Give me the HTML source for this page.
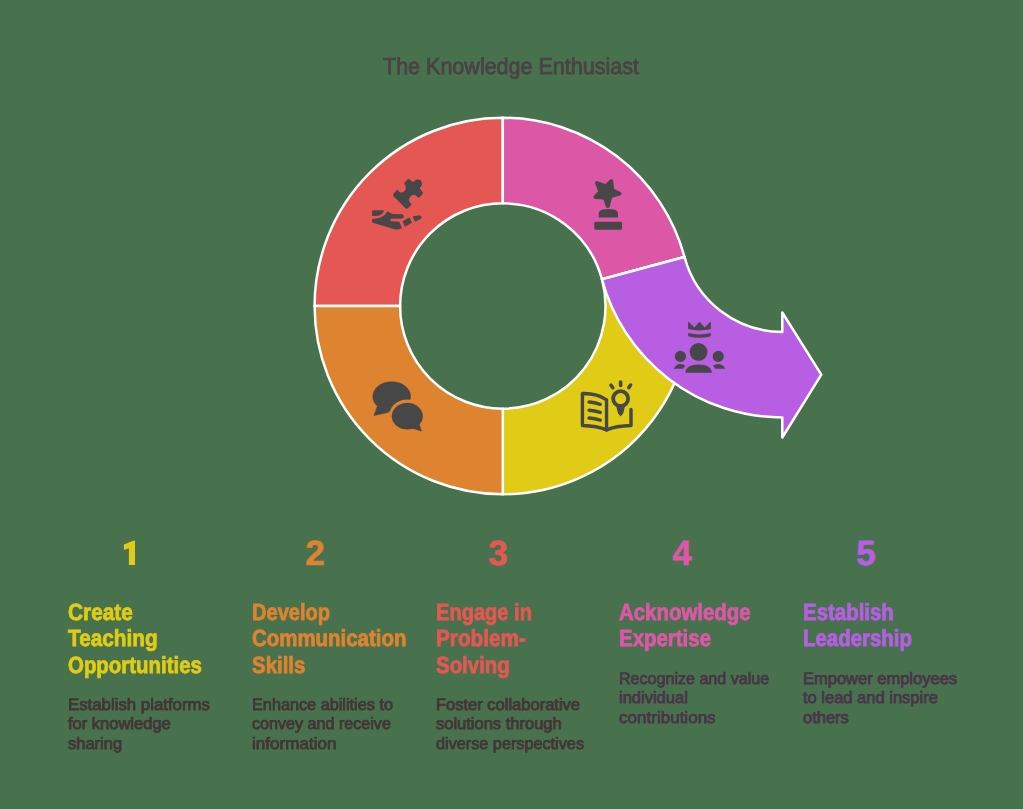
<!DOCTYPE html>
<html>
<head>
<meta charset="utf-8">
<style>
html,body{margin:0;padding:0;}
body{width:1023px;height:809px;background:#48714d;position:relative;overflow:hidden;font-family:"Liberation Sans",sans-serif;}
#art{position:absolute;left:0;top:0;width:1023px;height:809px;}
.t{position:absolute;white-space:nowrap;}
.title{left:383px;top:54.6px;font-size:23px;line-height:23px;color:#4b4245;transform-origin:0 0;transform:scaleX(0.9355);-webkit-text-stroke:0.8px #4b4245;text-rendering:geometricPrecision;}
.num{position:absolute;width:60px;text-align:center;font-size:35px;line-height:40px;font-weight:bold;top:534px;text-rendering:geometricPrecision;-webkit-text-stroke:0.6px currentColor;}
.h{position:absolute;font-size:23.3px;font-weight:bold;line-height:26.35px;top:599px;white-space:nowrap;transform-origin:0 0;transform:scaleX(0.877);-webkit-text-stroke:0.8px currentColor;text-rendering:geometricPrecision;}
.d{position:absolute;font-size:16.5px;line-height:19.6px;white-space:nowrap;-webkit-text-stroke:0.8px currentColor;text-rendering:geometricPrecision;}
.sx{display:inline-block;transform-origin:0 50%;}
</style>
</head>
<body>
<svg id="art" width="1023" height="809" viewBox="0 0 1023 809">
  <g stroke="#ffffff" stroke-width="2.5" stroke-linejoin="round">
    <path fill="#e45753" d="M314.60 306.00 A188.2 188.2 0 0 1 502.80 117.80 L502.80 203.30 A102.7 102.7 0 0 0 400.10 306.00 Z"/>
    <path fill="#dd57a7" d="M502.80 117.80 A188.2 188.2 0 0 1 684.50 256.97 L601.95 279.25 A102.7 102.7 0 0 0 502.80 203.30 Z"/>
    <path fill="#e0cb16" d="M684.50 256.97 A188.2 188.2 0 0 1 502.80 494.20 L502.80 408.70 A102.7 102.7 0 0 0 601.95 279.25 Z"/>
    <path fill="#de832f" d="M502.80 494.20 A188.2 188.2 0 0 1 314.60 306.00 L400.10 306.00 A102.7 102.7 0 0 0 502.80 408.70 Z"/>
    <path fill="#b75ee3" d="M684.50 256.98 A101.29 101.29 0 0 0 782.30 331.89 L782.30 312.5 L821.3 374.64 L782.30 437.5 L782.30 417.39 A186.79 186.79 0 0 1 601.96 279.25 Z"/>
  </g>
  <g id="icons" fill="#474747">
    <!-- puzzle hand -->
    <svg x="390" y="175" width="35" height="37" viewBox="0 0 765 809">
      <path d="M68 435 L80 405 L150 330 L175 335 L200 365 L240 380 L285 375 L325 345 L345 300 L345 260 L330 215 L310 190 L320 160 L395 90 L425 95 L505 160 L530 130 L570 105 L620 100 L665 115 L695 155 L700 200 L685 245 L650 280 L660 300 L715 380 L715 415 L630 505 L600 480 L560 445 L515 435 L470 450 L430 490 L415 540 L425 590 L465 630 L470 650 L380 740 L350 740 L75 465 Z"/>
    </svg>
    <svg x="370" y="208" width="55" height="24" viewBox="0 0 1023 446">
      <path d="M40 40 L262 40 Q250 110 160 145 L40 150 Z"/>
      <path d="M40 205 Q200 195 285 120 L320 60 L420 110 L590 115 Q632 120 630 158 Q625 195 590 197 L395 200 Q375 205 375 222 Q377 243 395 245 L545 255 L595 375 Q530 405 470 400 L40 270 Z"/>
      <path d="M605 245 L735 175 L780 275 L650 350 Z"/>
      <path d="M790 160 Q870 135 930 140 Q975 160 955 195 L840 255 Z"/>
    </svg>
    <!-- trophy star -->
    <svg x="585" y="172" width="45" height="60" viewBox="0 0 607 809">
      <path d="M137.2 159.0 A26 26 0 0 1 169.7 124.5 L277.2 161.7 L335.7 104.7 A26 26 0 0 1 379.6 120.1 L393.4 229.7 L477.8 268.5 A26 26 0 0 1 474.2 317.1 L365.0 348.7 L332.2 467.3 A26 26 0 0 1 282.6 468.9 L248.8 371.4 L138.0 364.6 A26 26 0 0 1 120.4 321.1 L178.0 258.0 Z"/>
      <path d="M185 615 L185 560 Q185 500 315 500 Q445 500 445 560 L445 615 Z"/>
      <rect x="125" y="670" width="375" height="110" rx="20"/>
    </svg>
    <!-- speech bubbles -->
    <svg x="365" y="375" width="65" height="60" viewBox="0 0 876 809">
      <defs>
        <mask id="mb">
          <rect x="0" y="0" width="876" height="809" fill="#fff"/>
          <ellipse cx="570" cy="555" rx="245" ry="225" fill="#000"/>
        </mask>
      </defs>
      <g mask="url(#mb)" stroke="#474747" stroke-width="6">
        <ellipse cx="360" cy="290" rx="255" ry="200"/>
        <path d="M165 420 L120 548 L330 500 Z"/>
      </g>
      <g stroke="#474747" stroke-width="6"><ellipse cx="570" cy="555" rx="207" ry="177"/>
      <path d="M720 630 L762 757 L620 712 Z"/></g>
    </svg>
    <!-- book bulb -->
    <svg x="575" y="375" width="65" height="60" viewBox="0 0 876 809">
      <g fill="none" stroke="#474747" stroke-width="46" stroke-linecap="round" stroke-linejoin="round">
        <path d="M425 740 L425 335 Q300 245 100 250 L100 680 Q300 685 425 740"/>
        <path d="M425 740 Q550 685 755 680 L755 465"/>
        <path d="M190 365 Q265 370 340 395 M190 475 Q265 480 340 505 M190 580 Q265 585 340 610"/>
        <circle cx="615" cy="318" r="101" stroke-width="52"/>
        <path d="M485 138 L510 172 M615 95 L615 142 M750 135 L725 170" stroke-width="48"/>
      </g>
      <path d="M555 395 L675 395 Q668 470 650 515 L615 558 L580 515 Q562 470 555 395 Z"/>
    </svg>
    <!-- crown people -->
    <svg x="670" y="315" width="60" height="60" viewBox="0 0 809 809">
      <path stroke="#474747" stroke-width="12" stroke-linejoin="round" d="M250 98 L330 175 L398 95 L465 175 L545 98 L545 185 Q398 222 250 185 Z"/>
      <path d="M245 242 Q398 282 550 242 L550 285 Q398 330 245 285 Z"/>
      <circle cx="385" cy="498" r="120"/>
      <path d="M205 780 Q215 670 385 668 Q555 670 565 780 Z"/>
      <circle cx="140" cy="558" r="75"/>
      <path d="M50 725 Q80 660 140 660 Q185 660 205 685 L175 725 Z"/>
      <circle cx="650" cy="558" r="75"/>
      <path d="M745 725 Q715 660 650 660 Q605 660 580 685 L610 725 Z"/>
    </svg>
  </g>
</svg>

<div class="t title">The Knowledge Enthusiast</div>

<svg style="position:absolute;left:0;top:0" width="200" height="600" viewBox="0 0 200 600"><path fill="#e0cb16" d="M135.03 540.85 L135.03 565.04 L128.91 565.04 L128.91 548.35 L123.9 549.9 L123.9 544.4 L133.1 540.85 Z"/></svg>
<div class="num" style="left:285px;color:#de832f">2</div>
<div class="num" style="left:468px;color:#e45753">3</div>
<div class="num" style="left:652px;color:#dd57a7">4</div>
<div class="num" style="left:836px;color:#b75ee3">5</div>

<div class="h" style="left:68px;color:#e0cb16"><span class="sx" style="transform:scaleX(1.02)">Create</span><br><span class="sx" style="transform:scaleX(1.017)">Teaching</span><br>Opportunities</div>
<div class="h" style="left:252px;color:#de832f"><span class="sx" style="transform:scaleX(0.983)">Develop</span><br>Communication<br>Skills</div>
<div class="h" style="left:436px;color:#e45753"><span class="sx" style="transform:scaleX(0.983)">Engage in</span><br><span class="sx" style="transform:scaleX(1.015)">Problem-</span><br>Solving</div>
<div class="h" style="left:619px;color:#dd57a7">Acknowledge<br>Expertise</div>
<div class="h" style="left:803px;color:#b75ee3">Establish<br>Leadership</div>

<div class="d" style="left:68px;top:695.9px;color:#433536"><span class="sx" style="transform:scaleX(1.018)">Establish platforms</span><br>for knowledge<br>sharing</div>
<div class="d" style="left:252px;top:695.9px;color:#433536"><span class="sx" style="transform:scaleX(0.985)">Enhance abilities to</span><br><span class="sx" style="transform:scaleX(0.977)">convey and receive</span><br><span class="sx" style="transform:scaleX(1.035)">information</span></div>
<div class="d" style="left:436px;top:695.9px;color:#433536">Foster collaborative<br>solutions through<br><span class="sx" style="transform:scaleX(0.984)">diverse perspectives</span></div>
<div class="d" style="left:619px;top:669.9px;color:#48354a"><span class="sx" style="transform:scaleX(0.974)">Recognize and value</span><br>individual<br><span class="sx" style="transform:scaleX(1.033)">contributions</span></div>
<div class="d" style="left:803px;top:669.9px;color:#48354a">Empower employees<br>to lead and inspire<br>others</div>
</body>
</html>
